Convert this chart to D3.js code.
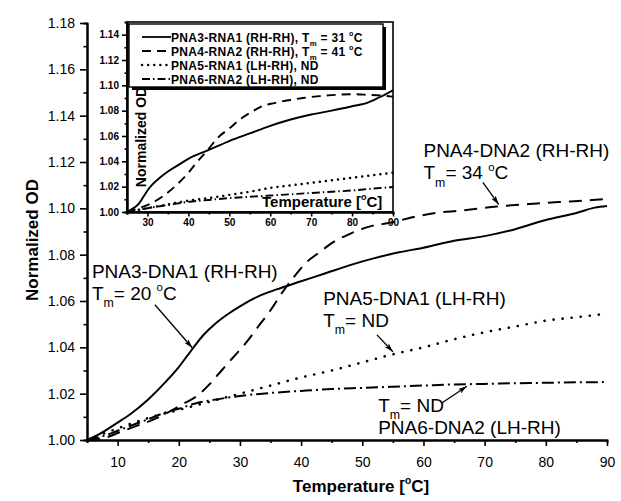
<!DOCTYPE html>
<html>
<head>
<meta charset="utf-8">
<script src="https://cdn.jsdelivr.net/npm/d3@7"></script>
<style>
body { margin: 0; background: #fff; }
svg { display: block; }
text { font-family: "Liberation Sans", Arial, sans-serif; fill: #000; }
</style>
</head>
<body>
<div id="chart"></div>
<script>
// main panel: PNA-DNA duplexes
var dna1Temp = [5, 7, 10, 12, 15, 18, 20, 22, 24, 26, 28, 30, 33, 36, 40, 44, 48, 52, 56, 60, 65, 70, 75, 80, 85, 88, 90];
var dna1OD = [1.000, 1.0025, 1.0075, 1.011, 1.0175, 1.0255, 1.0315, 1.0385, 1.0452, 1.0503, 1.0543, 1.0577, 1.062, 1.065, 1.0685, 1.072, 1.0755, 1.0785, 1.081, 1.083, 1.086, 1.088, 1.091, 1.095, 1.098, 1.1003, 1.101];

var dna2Temp = [5, 8, 10, 13, 16, 19, 21, 23, 25, 27, 29, 31, 33, 35, 37, 39, 41, 43, 45, 48, 51, 55, 58, 62, 66, 72, 78, 84, 90];
var dna2OD = [1.000, 1.001, 1.003, 1.006, 1.009, 1.013, 1.016, 1.019, 1.024, 1.030, 1.036, 1.042, 1.049, 1.056, 1.064, 1.071, 1.077, 1.081, 1.085, 1.089, 1.092, 1.094, 1.096, 1.098, 1.099, 1.1008, 1.102, 1.103, 1.104];

var dna5Temp = [5, 10, 15, 20, 25, 30, 35, 40, 45, 50, 55, 60, 65, 70, 75, 80, 85, 90];
var dna5OD = [1.000, 1.005, 1.0095, 1.013, 1.0165, 1.020, 1.0235, 1.027, 1.030, 1.0335, 1.037, 1.040, 1.0435, 1.0465, 1.049, 1.0515, 1.053, 1.0545];

var dna6Temp = [5, 8, 10, 13, 15, 18, 20, 23, 25, 30, 35, 40, 45, 50, 55, 60, 65, 70, 75, 80, 85, 90];
var dna6OD = [1.000, 1.002, 1.004, 1.007, 1.009, 1.012, 1.0135, 1.016, 1.017, 1.019, 1.0203, 1.0212, 1.022, 1.0225, 1.023, 1.0235, 1.024, 1.0242, 1.0245, 1.0247, 1.0249, 1.025];

// inset: PNA-RNA duplexes
var rna1Temp = [25, 26, 27, 28, 29, 30, 31, 33, 35, 38, 40, 45, 50, 55, 60, 65, 70, 75, 80, 84, 85, 87, 90];
var rna1OD = [1.000, 1.002, 1.004, 1.007, 1.012, 1.017, 1.021, 1.027, 1.032, 1.038, 1.042, 1.049, 1.056, 1.062, 1.068, 1.073, 1.077, 1.080, 1.0835, 1.0865, 1.088, 1.091, 1.096];

var rna2Temp = [25, 28, 31, 34, 37, 40, 42, 45, 47, 50, 53, 56, 58, 61, 64, 68, 72, 76, 80, 84, 87, 90];
var rna2OD = [1.000, 1.003, 1.007, 1.013, 1.021, 1.031, 1.039, 1.050, 1.058, 1.066, 1.074, 1.080, 1.0835, 1.086, 1.088, 1.090, 1.0915, 1.0925, 1.093, 1.0925, 1.092, 1.091];

var rna5Temp = [25, 30, 35, 40, 45, 50, 55, 60, 65, 70, 75, 80, 85, 90];
var rna5OD = [1.000, 1.003, 1.006, 1.009, 1.011, 1.0135, 1.016, 1.019, 1.021, 1.023, 1.025, 1.027, 1.029, 1.031];

var rna6Temp = [25, 30, 35, 40, 45, 50, 55, 60, 65, 70, 75, 80, 85, 90];
var rna6OD = [1.000, 1.003, 1.0055, 1.008, 1.0095, 1.011, 1.012, 1.013, 1.014, 1.015, 1.016, 1.017, 1.0185, 1.0197];

// ticks
var mainXTicks = [10, 20, 30, 40, 50, 60, 70, 80, 90];
var mainXMinor = [5, 15, 25, 35, 45, 55, 65, 75, 85];
var mainYTicks = [1.00, 1.02, 1.04, 1.06, 1.08, 1.10, 1.12, 1.14, 1.16, 1.18];
var mainYMinor = [1.01, 1.03, 1.05, 1.07, 1.09, 1.11, 1.13, 1.15, 1.17];
var insetXTicks = [30, 40, 50, 60, 70, 80, 90];
var insetXMinor = [25, 35, 45, 55, 65, 75, 85];
var insetYTicks = [1.00, 1.02, 1.04, 1.06, 1.08, 1.10, 1.12, 1.14];
var insetYMinor = [1.01, 1.03, 1.05, 1.07, 1.09, 1.11, 1.13];

var legendNames = ["PNA3-RNA1 (RH-RH), T", "PNA4-RNA2 (RH-RH), T", "PNA5-RNA1 (LH-RH), ND", "PNA6-RNA2 (LH-RH), ND"];
var legendTm = ["31", "41", null, null];

var width = 621, height = 501;

var svg = d3.select("#chart").append("svg")
    .attr("width", width)
    .attr("height", height);
svg.append("rect").attr("width", width).attr("height", height).attr("fill", "#fff");

svg.append("defs").append("marker")
    .attr("id", "arrow")
    .attr("viewBox", "0 0 10 6")
    .attr("refX", 10).attr("refY", 3)
    .attr("markerWidth", 9).attr("markerHeight", 5.4)
    .attr("markerUnits", "userSpaceOnUse")
    .attr("orient", "auto")
    .append("path")
    .attr("d", "M0,0L10,3L0,6L2.5,3Z")
    .attr("fill", "#000");

var x = d3.scaleLinear().domain([5, 90]).range([87, 607]);
var y = d3.scaleLinear().domain([1.00, 1.18]).range([440, 23]);

var dashes = [null, "13,8", "0.1,9", "12,4,2,4"];
var insetDashes = [null, "9,6", "0.1,6", "8,3,1.5,3"];

function richText(sel, parts, size) {
    var shift = 0;
    parts.forEach(function (p) {
        var target = 0, fs = size;
        if (p[1] == "sub") { target = size * 0.38; fs = size * 0.65; }
        if (p[1] == "sup") { target = -size * 0.45; fs = size * 0.6; }
        sel.append("tspan")
            .attr("dy", target - shift)
            .style("font-size", fs + "px")
            .text(p[0]);
        shift = target;
    });
}

// ---- main axes
function styleAxis(g) {
    g.select(".domain").attr("stroke-width", 2);
    g.selectAll(".tick line").attr("stroke-width", 1.6);
}

svg.append("g")
    .attr("transform", "translate(0,440)")
    .call(d3.axisBottom(x).tickValues(mainXMinor).tickSize(3).tickFormat(""))
    .call(styleAxis);
var xAxis = svg.append("g")
    .attr("transform", "translate(0,440)")
    .call(d3.axisBottom(x).tickValues(mainXTicks).tickSize(6).tickSizeOuter(0).tickPadding(11).tickFormat(d3.format("d")))
    .call(styleAxis);
xAxis.selectAll("text").style("font-size", "14px").attr("font-family", null);

svg.append("g")
    .attr("transform", "translate(87,0)")
    .call(d3.axisLeft(y).tickValues(mainYMinor).tickSize(3.5).tickFormat(""))
    .call(styleAxis);
var yAxis = svg.append("g")
    .attr("transform", "translate(87,0)")
    .call(d3.axisLeft(y).tickValues(mainYTicks).tickSize(7).tickSizeOuter(0).tickPadding(5).tickFormat(d3.format(".2f")))
    .call(styleAxis);
yAxis.selectAll("text").style("font-size", "14px").attr("font-family", null);

var xt = svg.append("text")
    .attr("x", 361).attr("y", 492)
    .attr("text-anchor", "middle")
    .style("font-size", "17px").style("font-weight", "bold");
richText(xt, [["Temperature ["], ["o", "sup"], ["C]"]], 17);

svg.append("text")
    .attr("transform", "translate(38,240) rotate(-90)")
    .attr("text-anchor", "middle")
    .style("font-size", "17px").style("font-weight", "bold")
    .text("Normalized OD");

// ---- main curves
var mainSeries = [
    { t: dna1Temp, v: dna1OD },
    { t: dna2Temp, v: dna2OD },
    { t: dna5Temp, v: dna5OD },
    { t: dna6Temp, v: dna6OD }
];

var line = d3.line()
    .x(function (d) { return x(d[0]); })
    .y(function (d) { return y(d[1]); })
    .curve(d3.curveMonotoneX);

svg.append("g").selectAll("path")
    .data(mainSeries)
    .enter()
    .append("path")
    .attr("d", function (s) { return line(d3.zip(s.t, s.v)); })
    .attr("fill", "none")
    .attr("stroke", "#000")
    .attr("stroke-width", function (s, i) { return i == 2 ? 2.6 : 2; })
    .attr("stroke-linecap", function (s, i) { return i == 2 ? "round" : "butt"; })
    .attr("stroke-dasharray", function (s, i) { return dashes[i]; });

// ---- annotations (data coordinates)
var notes = [
    { x: 5.8, v: 1.0701, lines: [[["PNA3-DNA1 (RH-RH)"]], [["T"], ["m", "sub"], ["= 20 "], ["o", "sup"], ["C"]]],
      from: [16.1, 1.0584], to: [22.2, 1.0398] },
    { x: 60, v: 1.1220, lines: [[["PNA4-DNA2 (RH-RH)"]], [["T"], ["m", "sub"], ["= 34 "], ["o", "sup"], ["C"]]],
      from: [69.7, 1.1112], to: [72.3, 1.1017] },
    { x: 43.6, v: 1.0584, lines: [[["PNA5-DNA1 (LH-RH)"]], [["T"], ["m", "sub"], ["= ND"]]],
      from: [52.4, 1.0454], to: [55, 1.0381] },
    { x: 52.6, v: 1.0121, lines: [[["T"], ["m", "sub"], ["= ND"]], [["PNA6-DNA2 (LH-RH)"]]],
      from: [63.0, 1.0160], to: [67.1, 1.0232] }
];

notes.forEach(function (n) {
    n.lines.forEach(function (parts, k) {
        var t = svg.append("text")
            .attr("x", x(n.x))
            .attr("y", y(n.v) + k * 22)
            .style("font-size", "19px");
        richText(t, parts, 19);
    });
    svg.append("line")
        .attr("x1", x(n.from[0])).attr("y1", y(n.from[1]))
        .attr("x2", x(n.to[0])).attr("y2", y(n.to[1]))
        .attr("stroke", "#000")
        .attr("stroke-width", 1.3)
        .attr("marker-end", "url(#arrow)");
});

// ---- inset
var ix = d3.scaleLinear().domain([25, 90]).range([127, 393]);
var iy = d3.scaleLinear().domain([1.00, 1.15]).range([212, 22]);

var inset = svg.append("g");
inset.append("rect")
    .attr("x", ix(25)).attr("y", iy(1.15))
    .attr("width", ix(90) - ix(25)).attr("height", iy(1.00) - iy(1.15))
    .attr("fill", "#fff")
    .attr("stroke", "#000")
    .attr("stroke-width", 1.6);

var insetSeries = [
    { t: rna1Temp, v: rna1OD },
    { t: rna2Temp, v: rna2OD },
    { t: rna5Temp, v: rna5OD },
    { t: rna6Temp, v: rna6OD }
];

var iline = d3.line()
    .x(function (d) { return ix(d[0]); })
    .y(function (d) { return iy(d[1]); })
    .curve(d3.curveMonotoneX);

inset.append("g").selectAll("path")
    .data(insetSeries)
    .enter()
    .append("path")
    .attr("d", function (s) { return iline(d3.zip(s.t, s.v)); })
    .attr("fill", "none")
    .attr("stroke", "#000")
    .attr("stroke-width", function (s, i) { return i == 2 ? 2.4 : 1.9; })
    .attr("stroke-linecap", function (s, i) { return i == 2 ? "round" : "butt"; })
    .attr("stroke-dasharray", function (s, i) { return insetDashes[i]; });

inset.append("g")
    .attr("transform", "translate(0,212)")
    .call(d3.axisBottom(ix).tickValues(insetXMinor).tickSize(2.5).tickFormat(""))
    .call(styleAxis);
var ixAxis = inset.append("g")
    .attr("transform", "translate(0,212)")
    .call(d3.axisBottom(ix).tickValues(insetXTicks).tickSize(4.5).tickSizeOuter(0).tickPadding(2).tickFormat(d3.format("d")))
    .call(styleAxis);
ixAxis.selectAll("text").style("font-size", "10px").style("font-weight", "bold").attr("font-family", null);

inset.append("g")
    .attr("transform", "translate(127,0)")
    .call(d3.axisLeft(iy).tickValues(insetYMinor).tickSize(2.5).tickFormat(""))
    .call(styleAxis);
var iyAxis = inset.append("g")
    .attr("transform", "translate(127,0)")
    .call(d3.axisLeft(iy).tickValues(insetYTicks).tickSize(5).tickSizeOuter(0).tickPadding(3).tickFormat(d3.format(".2f")))
    .call(styleAxis);
iyAxis.selectAll("text").style("font-size", "10px").style("font-weight", "bold").attr("font-family", null);

var ixt = inset.append("text")
    .attr("x", 262).attr("y", 207)
    .style("font-size", "15px").style("font-weight", "bold");
richText(ixt, [["Temperature ["], ["o", "sup"], ["C]"]], 15);

inset.append("text")
    .attr("transform", "translate(146,137) rotate(-90)")
    .attr("text-anchor", "middle")
    .style("font-size", "14px").style("font-weight", "bold")
    .text("Normalized OD");

// ---- legend
var legend = inset.append("g");
legend.append("rect")
    .attr("x", 132).attr("y", 27).attr("width", 254).attr("height", 63)
    .attr("fill", "#000");
legend.append("rect")
    .attr("x", 129).attr("y", 24).attr("width", 254).attr("height", 63)
    .attr("fill", "#fff").attr("stroke", "#000").attr("stroke-width", 1.4);

var rows = legend.selectAll("g.row")
    .data(legendNames)
    .enter()
    .append("g")
    .attr("class", "row")
    .attr("transform", function (d, i) { return "translate(0," + (37 + i * 14) + ")"; });

rows.append("line")
    .attr("x1", 142).attr("x2", 171)
    .attr("stroke", "#000")
    .attr("stroke-width", function (d, i) { return i == 2 ? 2.4 : 1.8; })
    .attr("stroke-linecap", function (d, i) { return i == 2 ? "round" : "butt"; })
    .attr("stroke-dasharray", function (d, i) { return ["", "9,6", "0.1,6", "8,3,1.5,3"][i]; });

rows.each(function (d, i) {
    var t = d3.select(this).append("text")
        .attr("x", 171).attr("y", 4.5)
        .style("font-size", "12px").style("font-weight", "bold")
        .style("letter-spacing", "0.3px");
    var parts = [[d]];
    if (legendTm[i]) {
        parts.push(["m", "sub"]);
        parts.push([" = " + legendTm[i] + " "]);
        parts.push(["o", "sup"]);
        parts.push(["C"]);
    }
    richText(t, parts, 12);
});
</script>
</body>
</html>
